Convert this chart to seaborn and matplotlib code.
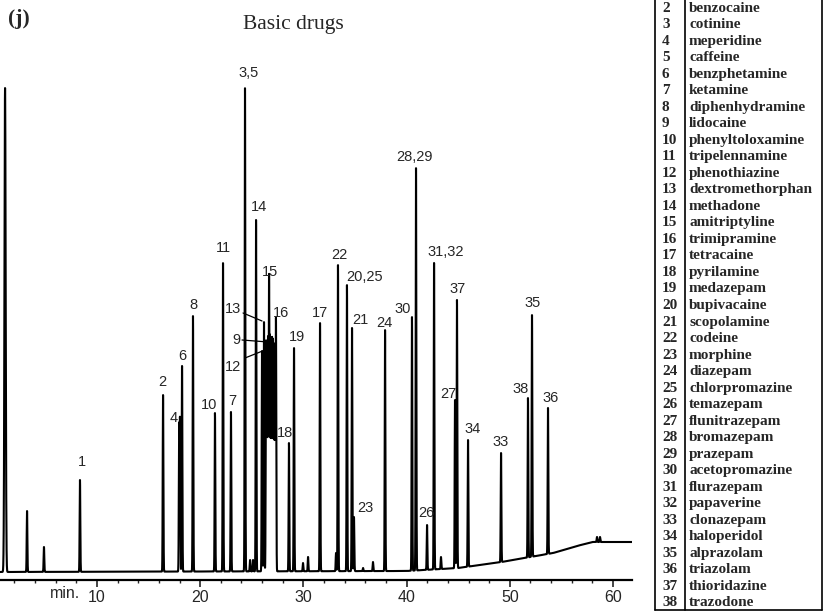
import numpy as np
import pandas as pd
import matplotlib
matplotlib.use("Agg")
import matplotlib.pyplot as plt
from matplotlib.lines import Line2D
import seaborn as sns

# ---------------- data ----------------
# retention time (min) and peak top height (arbitrary units above axis)
peak_times = [1.09, 3.22, 4.86, 8.35, 16.40, 17.96, 18.04, 18.24, 19.30, 21.43,
              22.21, 22.98, 24.34, 24.83, 25.12, 25.41, 25.99, 26.18, 26.38, 26.47,
              26.57, 26.67, 26.76, 26.86, 26.96, 27.05, 27.15, 27.25, 27.34, 28.60,
              29.09, 29.96, 30.45, 31.61, 33.16, 33.35, 34.22, 34.71, 34.90, 35.78,
              36.74, 37.91, 40.52, 40.91, 41.98, 42.66, 43.33, 44.69, 44.88, 45.95,
              49.15, 51.76, 52.15, 53.70, 58.45, 58.74]
peak_tops = [492, 69, 33, 100, 185, 150, 156, 214, 264, 167,
             317, 168, 492, 20, 20, 360, 229, 258, 235, 232,
             240, 300, 238, 232, 237, 235, 232, 230, 258, 137,
             232, 17, 23, 257, 27, 315, 295, 252, 63, 12,
             18, 250, 263, 412, 55, 317, 23, 180, 280, 140,
             127, 182, 265, 172, 43, 43]

baseline_t = [0.6, 40.0, 45.0, 49.2, 54.2, 56.5, 58.0, 62.0]
baseline_h = [8, 9, 12, 18, 27, 34, 38, 38]

peak_labels = ["1", "2", "4", "6", "8", "10", "11", "7", "3,5", "14", "13", "9", "12",
               "15", "16", "19", "17", "22", "18", "23", "20,25", "21", "24", "30",
               "28,29", "26", "31,32", "37", "27", "34", "33", "38", "35", "36"]
label_t = [8.55, 16.30, 17.46, 18.24, 19.30, 20.85, 22.21, 23.08, 24.65, 25.70, 23.18, 23.47, 23.18,
           26.76, 27.83, 29.38, 31.61, 33.45, 28.22, 35.97, 35.97, 35.48, 37.81, 39.65,
           40.81, 41.88, 43.82, 44.98, 44.01, 46.43, 49.15, 51.09, 52.25, 53.99]
label_h = [118, 198, 162, 224, 275, 175, 332, 179, 507, 373, 271, 240, 213,
           308, 267, 243, 267, 325, 147, 72, 303, 260, 257, 271,
           423, 67, 328, 291, 186, 151, 138, 191, 277, 182]

# leader lines (label -> peak)
leaders = [((24.15, 267), (25.99, 259)),
           ((24.05, 240), (26.57, 238)),
           ((24.34, 222), (26.28, 230))]

legend_numbers = list(range(2, 39))
legend_names = ["benzocaine", "cotinine", "meperidine", "caffeine", "benzphetamine",
                "ketamine", "diphenhydramine", "lidocaine", "phenyltoloxamine",
                "tripelennamine", "phenothiazine", "dextromethorphan", "methadone",
                "amitriptyline", "trimipramine", "tetracaine", "pyrilamine", "medazepam",
                "bupivacaine", "scopolamine", "codeine", "morphine", "diazepam",
                "chlorpromazine", "temazepam", "flunitrazepam", "bromazepam", "prazepam",
                "acetopromazine", "flurazepam", "papaverine", "clonazepam", "haloperidol",
                "alprazolam", "triazolam", "thioridazine", "trazodone"]

x_ticks = [10, 20, 30, 40, 50, 60]

# ---------------- build trace ----------------
t = np.arange(0.6, 61.85, 0.003)
base = np.interp(t, baseline_t, baseline_h)
sig = base.copy()
for pt, top in zip(peak_times, peak_tops):
    amp = top - np.interp(pt, baseline_t, baseline_h)
    s = 0.032 if pt > 3 else 0.06
    sig += amp * np.exp(-0.5 * ((t - pt) / s) ** 2)
df = pd.DataFrame({"time": t, "signal": sig})

# ---------------- plot ----------------
sns.set_theme(style="white")
plt.rcParams["font.family"] = ["Liberation Sans", "DejaVu Sans"]

W, H = 826, 612
fig = plt.figure(figsize=(W / 100, H / 100), dpi=100)
ax = fig.add_axes([0.0, (H - 580) / H, 632 / W, (580 - 60) / H])
sns.lineplot(data=df, x="time", y="signal", ax=ax, color="black", linewidth=1.5,
             estimator=None, sort=False, errorbar=None)
ax.set_xlim(0.6, 61.84)
ax.set_ylim(0, 520)
ax.set_xlabel("")
ax.set_ylabel("")
ax.set_yticks([])
ax.set_xticks(x_ticks)
ax.set_xticklabels([str(v) for v in x_ticks], fontsize=11.5)
ax.set_xticks(np.arange(2, 62, 2), minor=True)
ax.tick_params(axis="x", which="major", direction="out", length=5, width=1.2, bottom=True, pad=2)
ax.tick_params(axis="x", which="minor", direction="out", length=2.5, width=1, bottom=True)
for side in ["top", "left", "right"]:
    ax.spines[side].set_visible(False)
ax.spines["bottom"].set_linewidth(1.6)
ax.spines["bottom"].set_color("black")
ax.patch.set_alpha(0)

ax.text(6.9, -6, "min.", ha="center", va="top", fontsize=11.5)

for lab, lt, lh in zip(peak_labels, label_t, label_h):
    ax.text(lt, lh, lab, ha="center", va="center", fontsize=10.5)
for (p0, p1) in leaders:
    ax.plot([p0[0], p1[0]], [p0[1], p1[1]], color="black", lw=0.9)

# titles
fig.text(8 / W, 1 - 19 / H, "(j)", fontsize=15.5, fontweight="bold",
         family=["Liberation Serif"], ha="left", va="center")
fig.text(293 / W, 1 - 24 / H, "Basic drugs", fontsize=15.5,
         family=["Liberation Serif"], ha="center", va="center")

# legend table
def fy(y):
    return 1 - y / H

lx0, lxd, lx1 = 655, 685, 822
ybot = 610
for xx in (lx0, lxd, lx1):
    fig.add_artist(Line2D([xx / W, xx / W], [fy(-40), fy(ybot)], transform=fig.transFigure,
                          color="black", lw=1.2))
fig.add_artist(Line2D([lx0 / W, lx1 / W], [fy(ybot), fy(ybot)], transform=fig.transFigure,
                      color="black", lw=1.2))
row_h = (603 - 8) / 36
for n, name in zip(legend_numbers, legend_names):
    yc = 8 + (n - 2) * row_h
    fig.text(662 / W, fy(yc), str(n), fontsize=11, fontweight="bold",
             family=["Liberation Serif"], ha="left", va="center")
    fig.text(689 / W, fy(yc), name, fontsize=11, fontweight="bold",
             family=["Liberation Serif"], ha="left", va="center")

fig.savefig("out.png", dpi=100)
